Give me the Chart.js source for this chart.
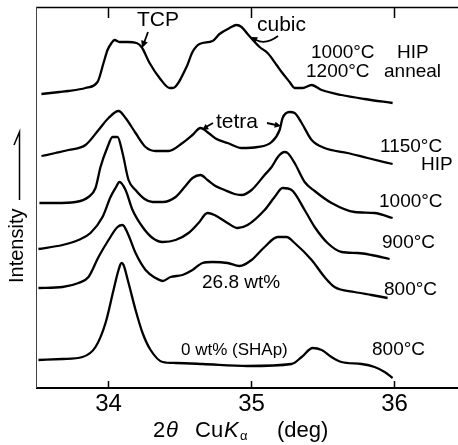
<!DOCTYPE html>
<html>
<head>
<meta charset="utf-8">
<script src="https://cdn.jsdelivr.net/npm/chart.js@4"></script>
<style>
html,body{margin:0;padding:0;background:#fff;}
#wrap{width:458px;height:445px;position:relative;}
</style>
</head>
<body>
<div id="wrap"><canvas id="c" width="458" height="445"></canvas></div>
<script>
// 2θ (deg) positions and relative intensities
const xTicks = [34, 35, 36];
const tickLabels = ['34', '35', '36'];

const xAnneal = [33.538,33.664,33.727,33.846,33.930,33.972,34.000,34.028,34.049,34.084,34.140,34.203,34.238,34.294,34.364,34.434,34.455,34.552,34.594,34.643,34.734,34.783,34.853,34.902,34.937,34.979,35.063,35.119,35.182,35.217,35.273,35.308,35.364,35.427,35.497,35.636,35.797,35.993];
const yAnneal = [294,296,297,300,306,325,338,345,348,346,346,345,341,325,310,300,300,321,336,344,347,354,360,363,361,354,341,335,323,316,306,300,300,303,298,293,289,285];

const x1150 = [33.538,33.636,33.727,33.846,33.937,34.007,34.077,34.126,34.196,34.266,34.336,34.427,34.524,34.594,34.650,34.706,34.762,34.839,34.937,35.049,35.147,35.203,35.224,35.273,35.308,35.357,35.427,35.517,35.678,35.818,35.993];
const y1150 = [232,235,238,243,258,270,277,270,255,241,237,237,245,253,260,255,249,245,240,241,246,258,270,276,275,265,248,240,235,230,224];

const x1000 = [33.524,33.636,33.776,33.867,33.916,33.951,34.000,34.035,34.070,34.105,34.147,34.196,34.259,34.315,34.385,34.476,34.545,34.594,34.650,34.699,34.755,34.818,34.888,34.937,35.007,35.098,35.147,35.196,35.238,35.259,35.308,35.378,35.448,35.566,35.727,35.867,35.993];
const y1000 = [185,185,186,191,200,221,241,251,251,235,208,198,189,186,186,191,202,210,213,208,202,198,194,193,198,213,221,232,236,235,225,206,197,185,176,175,170];

const x900 = [33.517,33.685,33.797,33.881,33.965,34.021,34.056,34.084,34.126,34.175,34.245,34.315,34.385,34.476,34.566,34.636,34.699,34.748,34.839,34.909,34.979,35.098,35.168,35.224,35.287,35.378,35.448,35.538,35.636,35.748,35.846,35.972];
const y900 = [139,143,148,155,171,191,200,206,198,178,161,150,146,148,155,165,175,173,165,160,163,178,191,200,198,178,161,145,136,135,133,129];

const x800 = [33.517,33.685,33.797,33.867,33.937,34.007,34.070,34.105,34.140,34.196,34.266,34.336,34.385,34.441,34.524,34.594,34.664,34.734,34.839,34.923,35.007,35.098,35.189,35.252,35.308,35.427,35.517,35.587,35.727,35.846,35.958];
const y800 = [100,101,105,111,131,148,161,163,155,135,118,110,107,111,113,118,125,126,125,122,128,141,151,151,145,128,111,101,96,93,90];

const xSHAp = [33.517,33.685,33.825,33.916,33.986,34.042,34.077,34.098,34.112,34.147,34.196,34.245,34.301,34.385,34.476,34.664,34.979,35.287,35.357,35.434,35.497,35.566,35.636,35.776,35.867,35.937,35.993];
const ySHAp = [28,29,31,41,65,98,118,125,123,105,78,55,38,26,25,24,22,24,31,40,38,31,26,24,21,16,10];

const seriesNames = ['1000°C HIP / 1200°C anneal','1150°C HIP','1000°C','900°C','26.8 wt% 800°C','0 wt% (SHAp) 800°C'];
const seriesX = [xAnneal, x1150, x1000, x900, x800, xSHAp];
const seriesY = [yAnneal, y1150, y1000, y900, y800, ySHAp];

function pts(xs, ys){ return xs.map((x,i)=>({x:x, y:ys[i]})); }

const FONT = '"Liberation Sans", Arial, sans-serif';

function arrowHead(ctx, x0, y0, x1, y1, size){
  const a = Math.atan2(y1-y0, x1-x0);
  ctx.beginPath();
  ctx.moveTo(x1, y1);
  ctx.lineTo(x1 - size*Math.cos(a-0.45), y1 - size*Math.sin(a-0.45));
  ctx.lineTo(x1 - size*Math.cos(a+0.45), y1 - size*Math.sin(a+0.45));
  ctx.closePath();
  ctx.fill();
}

const decor = {
  id: 'decor',
  afterDraw(chart){
    const ctx = chart.ctx;
    const ca = chart.chartArea;
    const xs = chart.scales.x;
    ctx.save();
    ctx.strokeStyle = '#000';
    ctx.fillStyle = '#000';
    // frame
    ctx.lineWidth = 1.5;
    ctx.beginPath(); ctx.moveTo(ca.left, ca.top+0.5); ctx.lineTo(ca.right, ca.top+0.5); ctx.stroke();
    ctx.lineWidth = 2;
    ctx.beginPath(); ctx.moveTo(ca.left, ca.bottom); ctx.lineTo(ca.right, ca.bottom); ctx.stroke();
    ctx.lineWidth = 1;
    ctx.strokeStyle = '#444';
    ctx.beginPath(); ctx.moveTo(ca.left+0.5, ca.top); ctx.lineTo(ca.left+0.5, ca.bottom); ctx.stroke();
    ctx.strokeStyle = '#000';
    // ticks
    ctx.lineWidth = 1.5;
    xTicks.forEach((t,i)=>{
      const px = Math.round(xs.getPixelForValue(t)) + 0.5;
      ctx.beginPath(); ctx.moveTo(px, ca.bottom); ctx.lineTo(px, ca.bottom-7); ctx.stroke();
      ctx.beginPath(); ctx.moveTo(px, ca.top); ctx.lineTo(px, ca.top+11); ctx.stroke();
      ctx.font = '24px ' + FONT;
      ctx.textAlign = 'center';
      ctx.textBaseline = 'middle';
      ctx.fillText(tickLabels[i], px, ca.bottom + 16);
    });
    // x axis title: 2θ CuKα (deg)
    ctx.textBaseline = 'alphabetic';
    ctx.textAlign = 'left';
    const by = 437;
    ctx.font = '22px ' + FONT;
    ctx.fillText('2', 153, by);
    ctx.font = 'italic 22px ' + FONT;
    ctx.fillText('θ', 166, by);
    ctx.font = '22px ' + FONT;
    ctx.fillText('Cu', 195, by);
    ctx.font = 'italic 22px ' + FONT;
    ctx.fillText('K', 224, by);
    ctx.font = '13px ' + FONT;
    ctx.fillText('α', 240, by+3);
    ctx.font = '22px ' + FONT;
    ctx.fillText('(deg)', 277, by);
    // y axis title
    ctx.save();
    ctx.translate(23, 283);
    ctx.rotate(-Math.PI/2);
    ctx.font = '20px ' + FONT;
    ctx.textAlign = 'left';
    ctx.fillText('Intensity', 0, 0);
    ctx.restore();
    ctx.lineWidth = 1.5;
    ctx.beginPath(); ctx.moveTo(19.5, 200); ctx.lineTo(19.5, 132); ctx.lineTo(14, 145); ctx.stroke();
    // annotations
    ctx.textBaseline = 'middle';
    ctx.textAlign = 'left';
    ctx.font = '21px ' + FONT;
    ctx.fillText('TCP', 137, 20);
    ctx.fillText('cubic', 257, 25);
    ctx.fillText('tetra', 216, 122);
    ctx.lineWidth = 1.8;
    // TCP arrow
    ctx.beginPath(); ctx.moveTo(148, 32); ctx.lineTo(144, 43); ctx.stroke();
    arrowHead(ctx, 148, 32, 142, 48, 8);
    // cubic arrow (curved)
    ctx.beginPath(); ctx.moveTo(278, 36); ctx.quadraticCurveTo(266, 45, 256, 40); ctx.stroke();
    arrowHead(ctx, 262, 43, 251, 37, 7);
    // tetra arrows
    ctx.beginPath(); ctx.moveTo(213, 123); ctx.lineTo(206, 127); ctx.stroke();
    arrowHead(ctx, 213, 123, 202, 130, 7);
    ctx.beginPath(); ctx.moveTo(267, 123); ctx.lineTo(276, 125); ctx.stroke();
    arrowHead(ctx, 267, 123, 281, 126, 7);
    // series labels
    ctx.font = '19px ' + FONT;
    ctx.fillText('1000°C', 311, 53);
    ctx.fillText('HIP', 397, 53);
    ctx.fillText('1200°C', 306, 72);
    ctx.fillText('anneal', 384, 72);
    ctx.fillText('1150°C', 380, 147);
    ctx.fillText('HIP', 421, 165);
    ctx.fillText('1000°C', 379, 202);
    ctx.fillText('900°C', 382, 243);
    ctx.fillText('800°C', 384, 290);
    ctx.fillText('26.8 wt%', 202, 283);
    ctx.font = '17px ' + FONT;
    ctx.fillText('0 wt% (SHAp)', 181, 350);
    ctx.font = '19px ' + FONT;
    ctx.fillText('800°C', 372, 350);
    ctx.restore();
  }
};

new Chart(document.getElementById('c'), {
  type: 'line',
  data: {
    datasets: seriesX.map((xs, i) => ({
      label: seriesNames[i],
      data: pts(xs, seriesY[i]),
      borderColor: '#000',
      borderWidth: 2.3,
      pointRadius: 0,
      fill: false,
      cubicInterpolationMode: 'monotone'
    }))
  },
  options: {
    responsive: false,
    animation: false,
    layout: { padding: { left: 36, top: 7, right: 0, bottom: 57 } },
    plugins: { legend: { display: false }, tooltip: { enabled: false } },
    scales: {
      x: { type: 'linear', min: 33.5, max: 36.45, display: false },
      y: { type: 'linear', min: 0, max: 381, display: false }
    }
  },
  plugins: [decor]
});
</script>
</body>
</html>
